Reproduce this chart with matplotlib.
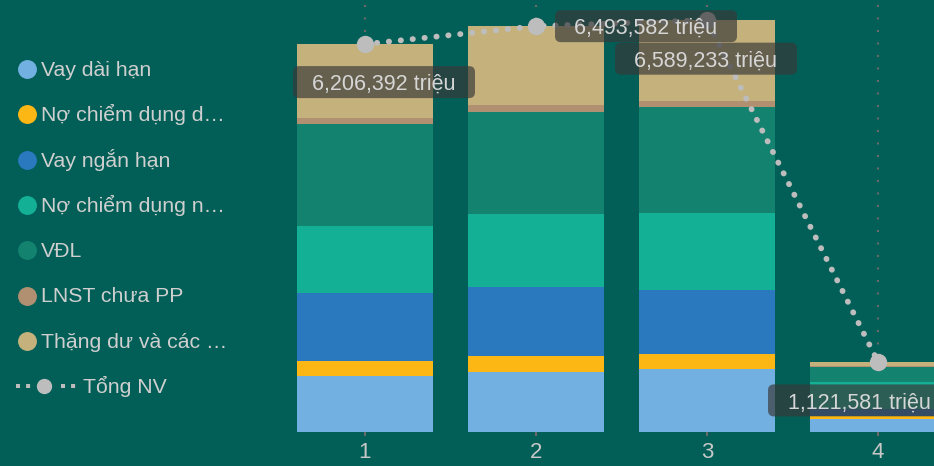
import numpy as np
import matplotlib.pyplot as plt
from matplotlib.patches import FancyBboxPatch
from matplotlib.transforms import IdentityTransform

plt.rcParams['font.family'] = ['Liberation Sans', 'DejaVu Sans']

# Cơ cấu nguồn vốn theo kỳ (đơn vị: triệu đồng)
periods = [1, 2, 3, 4]
series_names = ['Vay dài hạn', 'Nợ chiểm dụng d…', 'Vay ngắn hạn', 'Nợ chiểm dụng n…',
                'VĐL', 'LNST chưa PP', 'Thặng dư và các …']
vay_dai_han = [900000, 960000, 1008000, 203000]
no_chiem_dung_d = [235000, 256000, 240000, 48000]
vay_ngan_han = [1088000, 1104000, 1024000, 112000]
no_chiem_dung_n = [1072000, 1173000, 1232000, 442000]
vdl = [1632000, 1627000, 1696000, 240000]
lnst_chua_pp = [96000, 117000, 96000, 15000]
thang_du = [1183392, 1256582, 1293233, 61581]
total_name = 'Tổng NV'

stack = [vay_dai_han, no_chiem_dung_d, vay_ngan_han, no_chiem_dung_n, vdl, lnst_chua_pp, thang_du]
colors = ['#71b0e0', '#fdb714', '#2a78bd', '#13b096', '#13826f', '#b09071', '#c4b17c']
BG = '#015f57'
GREY = '#bdbdbd'
TXT = '#cfcfcf'

W, H = 934, 466
fig = plt.figure(figsize=(W / 100, H / 100), dpi=100, facecolor=BG)

# legend drawn in pixel coordinates on an overlay axes
leg = fig.add_axes([0, 0, 1, 1])
leg.set_xlim(0, W)
leg.set_ylim(H, 0)
leg.axis('off')
for i, (name, c) in enumerate(zip(series_names, colors)):
    base = 76 + 45.3 * i
    leg.scatter([27], [base - 7], s=185, color=c, linewidths=0)
    leg.text(41, base, name, fontsize=15.3, color=TXT, va='baseline')
base = 76 + 45.3 * 7
for x0 in (16, 61):
    leg.plot([x0, x0 + 15], [base - 7, base - 7], color=GREY, lw=2.9,
             dashes=(1, 1.5), solid_capstyle='butt', dash_capstyle='butt')
leg.plot([44], [base - 7], 'o', ms=10, color=GREY)
leg.text(83, base, total_name, fontsize=15.3, color=TXT, va='baseline')

# main chart
ax = fig.add_axes([279.5 / W, 34 / H, 684 / W, 432 / H])
ax.set_facecolor('none')
x = np.array(periods)
bottom = np.zeros(len(periods))
for vals, c in zip(stack, colors):
    ax.bar(x, vals, width=0.8, bottom=bottom, color=c, zorder=2)
    bottom += np.array(vals)
totals = bottom

ax.plot(x, totals, color=GREY, lw=4.2, dashes=(0.05, 2.0), dash_capstyle='round', zorder=3)
ax.plot(x, totals, 'o', ms=11.5, color=GREY, zorder=4)

ax.set_xlim(0.5, 4.5)
ax.set_ylim(0, 432 / 62.5 * 1e6)
ax.set_xticks(periods)
ax.set_xticklabels([str(p) for p in periods])
ax.set_yticks([])
ax.tick_params(axis='x', length=3, width=1.5, color='#6a6a6a', pad=4.5,
               labelsize=16, labelcolor='#c8c8c8')
ax.grid(axis='x', color='#6a6a6a', lw=1.5, linestyle=(0, (1, 5)), zorder=0)
ax.set_axisbelow(True)
for s in ax.spines.values():
    s.set_visible(False)

# data labels in rounded boxes, offsets in pixels from each point
offsets = [(19, -38), (110, 0), (-1, -38.5), (-19, -38.5)]
for xi, t, (dx, dy) in zip(x, totals, offsets):
    px, py = ax.transData.transform((xi, t))
    cx, cy = px + dx, py + dy
    box = FancyBboxPatch((cx - 91, cy - 16), 182, 32,
                         boxstyle='round,pad=0,rounding_size=6',
                         transform=IdentityTransform(), facecolor='#383838',
                         alpha=0.68, edgecolor='none', zorder=5, clip_on=False)
    ax.add_artist(box)
    ax.text(cx, cy - 8, f'{t:,.0f} triệu', transform=IdentityTransform(),
            ha='center', va='baseline', fontsize=15.5, color='#d6d6d6',
            zorder=6, clip_on=False)

fig.savefig('out.png', dpi=100, facecolor=BG)
